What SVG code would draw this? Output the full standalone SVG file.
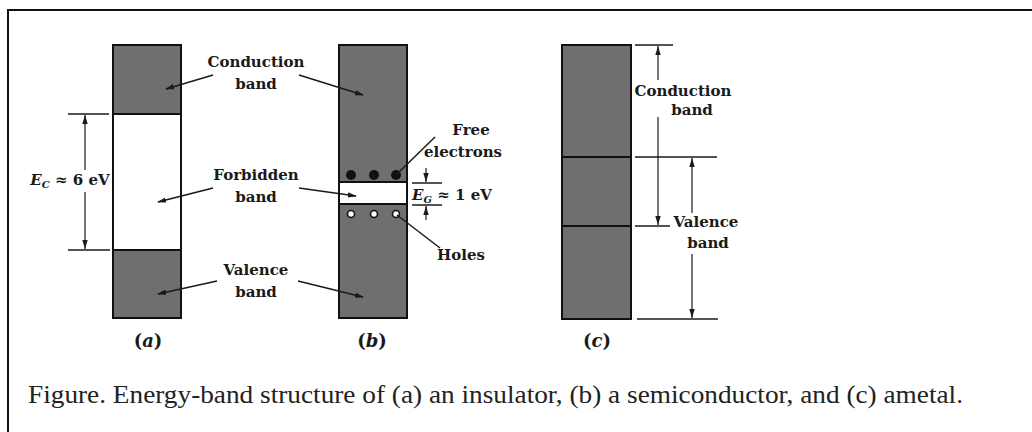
<svg xmlns="http://www.w3.org/2000/svg" width="1032" height="432" viewBox="0 0 1032 432">
<style>
.band{fill:#6f6f6f;stroke:#111;stroke-width:2}
.gap{fill:#fff;stroke:#111;stroke-width:2}
.lbl{font-family:"DejaVu Serif",serif;font-weight:bold;font-size:15px;fill:#1a1a1a;text-anchor:middle}
.sub{font-family:"DejaVu Serif",serif;font-weight:bold;font-size:18px;fill:#1a1a1a;text-anchor:middle}
.lead{stroke:#1a1a1a;stroke-width:1.5;fill:none}
.dim{stroke:#1a1a1a;stroke-width:1.2;fill:none}
.tick{stroke:#1a1a1a;stroke-width:1.5}
.cap{font-family:'Liberation Serif',serif;font-size:26px;fill:#222}
</style>
<defs>
<marker id="ah" viewBox="0 0 10 6" refX="9" refY="3" markerWidth="9" markerHeight="6" markerUnits="userSpaceOnUse" orient="auto">
<path d="M0,0 L10,3 L0,6 z" fill="#1a1a1a"/>
</marker>
<marker id="dh" viewBox="0 0 10 6" refX="10" refY="3" markerWidth="9" markerHeight="6" markerUnits="userSpaceOnUse" orient="auto">
<path d="M0,0 L10,3 L0,6 z" fill="#1a1a1a"/>
</marker>
</defs>
<rect width="1032" height="432" fill="#fff"/>
<path d="M8,432 V10 H1032" fill="none" stroke="#111" stroke-width="2"/>

<g id="band-a">
<rect class="band" x="113" y="45" width="68" height="69"/>
<rect class="gap" x="113" y="114" width="68" height="136"/>
<rect class="band" x="113" y="250" width="68" height="68"/>
<text class="sub" x="148" y="347">(<tspan font-style="italic">a</tspan>)</text>
</g>

<g id="band-b">
<rect class="band" x="339" y="45" width="68" height="137"/>
<rect class="gap" x="339" y="182" width="68" height="22"/>
<rect class="band" x="339" y="204" width="68" height="114"/>
<circle cx="351" cy="175" r="5" fill="#111"/>
<circle cx="374" cy="175" r="5" fill="#111"/>
<circle cx="396" cy="175" r="5" fill="#111"/>
<circle cx="351" cy="214" r="3.5" fill="#fff" stroke="#111" stroke-width="1.6"/>
<circle cx="374" cy="214" r="3.5" fill="#fff" stroke="#111" stroke-width="1.6"/>
<circle cx="396" cy="214" r="3.5" fill="#fff" stroke="#111" stroke-width="1.6"/>
<text class="sub" x="372" y="347">(<tspan font-style="italic">b</tspan>)</text>
</g>

<g id="band-c">
<rect class="band" x="562" y="45" width="69" height="112"/>
<rect class="band" x="562" y="157" width="69" height="69"/>
<rect class="band" x="562" y="226" width="69" height="93"/>
<text class="sub" x="597" y="347">(<tspan font-style="italic">c</tspan>)</text>
</g>

<g id="label-conduction">
<text class="lbl" x="256" y="67">Conduction</text>
<text class="lbl" x="256" y="89">band</text>
</g>
<g id="label-forbidden">
<text class="lbl" x="256" y="180">Forbidden</text>
<text class="lbl" x="256" y="202">band</text>
</g>
<g id="label-valence">
<text class="lbl" x="256" y="275">Valence</text>
<text class="lbl" x="256" y="297">band</text>
</g>
<g id="label-free">
<text class="lbl" x="471" y="135">Free</text>
<text class="lbl" x="463" y="157">electrons</text>
</g>
<g id="label-holes">
<text class="lbl" x="461" y="260">Holes</text>
</g>
<g id="label-ec">
<text class="lbl" x="70" y="185"><tspan font-style="italic">E</tspan><tspan font-style="italic" font-size="10" dy="3">C</tspan><tspan dy="-3"> ≈ 6 eV</tspan></text>
</g>
<g id="label-eg">
<text class="lbl" x="452" y="200"><tspan font-style="italic">E</tspan><tspan font-style="italic" font-size="10" dy="3">G</tspan><tspan dy="-3"> ≈ 1 eV</tspan></text>
</g>
<g id="label-c-conduction">
<text class="lbl" x="683" y="96">Conduction</text>
<text class="lbl" x="692" y="115">band</text>
</g>
<g id="label-c-valence">
<text class="lbl" x="706" y="227">Valence</text>
<text class="lbl" x="708" y="248">band</text>
</g>

<g id="connectors">
<line class="lead" x1="213" y1="75" x2="166" y2="89" marker-end="url(#ah)"/>
<line class="lead" x1="299" y1="75" x2="363" y2="95" marker-end="url(#ah)"/>
<line class="lead" x1="213" y1="188" x2="158" y2="202" marker-end="url(#ah)"/>
<line class="lead" x1="299" y1="188" x2="356" y2="196" marker-end="url(#ah)"/>
<line class="lead" x1="217" y1="281" x2="158" y2="294" marker-end="url(#ah)"/>
<line class="lead" x1="298" y1="281" x2="363" y2="297" marker-end="url(#ah)"/>
<line class="lead" x1="435" y1="137" x2="397" y2="174"/>
<line class="lead" x1="397" y1="215" x2="440" y2="248"/>

<line class="tick" x1="68" y1="114" x2="109" y2="114"/>
<line class="tick" x1="68" y1="250" x2="110" y2="250"/>
<line class="dim" x1="85" y1="170" x2="85" y2="115" marker-end="url(#dh)"/>
<line class="dim" x1="85" y1="192" x2="85" y2="249" marker-end="url(#dh)"/>

<line class="tick" x1="412" y1="183" x2="442" y2="183"/>
<line class="tick" x1="412" y1="205" x2="442" y2="205"/>
<line class="dim" x1="426" y1="168" x2="426" y2="182" marker-end="url(#dh)"/>
<line class="dim" x1="426" y1="220" x2="426" y2="206" marker-end="url(#dh)"/>

<line class="tick" x1="635" y1="45" x2="673" y2="45"/>
<line class="tick" x1="635" y1="157" x2="717" y2="157"/>
<line class="tick" x1="635" y1="226" x2="670" y2="226"/>
<line class="tick" x1="637" y1="319" x2="718" y2="319"/>
<line class="dim" x1="658" y1="80" x2="658" y2="46" marker-end="url(#dh)"/>
<line class="dim" x1="658" y1="117" x2="658" y2="225" marker-end="url(#dh)"/>
<line class="dim" x1="692" y1="213" x2="692" y2="158" marker-end="url(#dh)"/>
<line class="dim" x1="692" y1="254" x2="692" y2="318" marker-end="url(#dh)"/>
</g>

<g id="caption">
<text class="cap" x="28" y="403" textLength="935" lengthAdjust="spacingAndGlyphs">Figure. Energy-band structure of (a) an insulator, (b) a semiconductor, and (c) ametal.</text>
</g>
</svg>
